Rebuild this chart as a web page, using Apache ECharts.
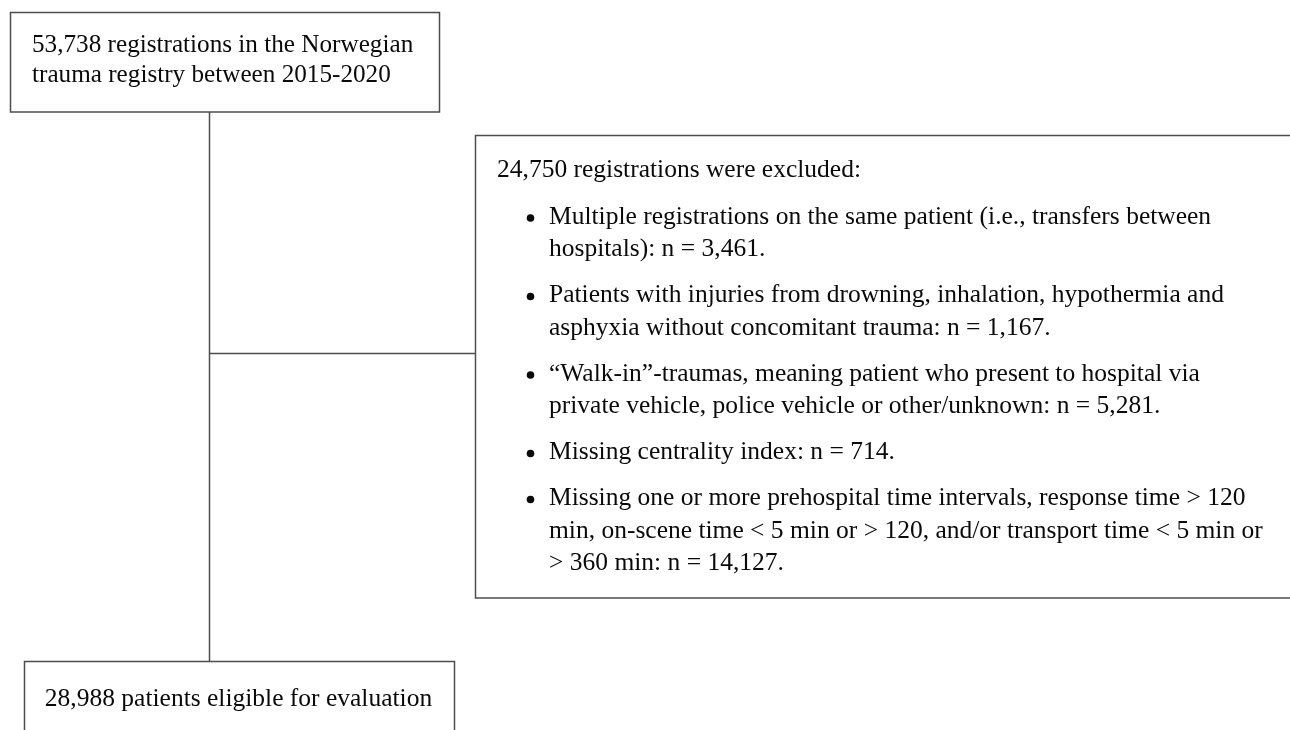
<!DOCTYPE html>
<html>
<head>
<meta charset="utf-8">
<script src="https://cdn.jsdelivr.net/npm/echarts@6/dist/echarts.min.js"></script>
<style>
html,body{margin:0;padding:0;background:#fff;}
#chart{width:1290px;height:730px;}
</style>
</head>
<body>
<div id="chart"></div>
<script>
// ---- content ----
const topBoxLines = [
  "53,738 registrations in the Norwegian",
  "trauma registry between 2015-2020"
];
const exclusionHeader = "24,750 registrations were excluded:";
const exclusionItems = [
  ["Multiple registrations on the same patient (i.e., transfers between", "hospitals): n = 3,461."],
  ["Patients with injuries from drowning, inhalation, hypothermia and", "asphyxia without concomitant trauma: n = 1,167."],
  ["\u201CWalk-in\u201D-traumas, meaning patient who present to hospital via", "private vehicle, police vehicle or other/unknown: n = 5,281."],
  ["Missing centrality index: n = 714."],
  ["Missing one or more prehospital time intervals, response time > 120", "min, on-scene time < 5 min or > 120, and/or transport time < 5 min or", "> 360 min: n = 14,127."]
];
const bottomBoxText = "28,988 patients eligible for evaluation";

// ---- drawing ----
const FONT = '"Liberation Serif","Times New Roman",serif';
const TXT = '#0a0a0a';
const LINE = '#4d4d4d';
const LW = 1.5;

const els = [];
function rect(x, y, w, h) {
  els.push({type: 'rect', shape: {x, y, width: w, height: h},
    style: {fill: '#fff', stroke: LINE, lineWidth: LW}});
}
function line(x1, y1, x2, y2) {
  els.push({type: 'line', shape: {x1, y1, x2, y2},
    style: {stroke: LINE, lineWidth: LW}});
}
function text(t, x, y, size, align) {
  els.push({type: 'text', x, y, style: {text: t, x: 0, y: 0, fill: TXT,
    font: size + 'px ' + FONT, textAlign: align || 'left', textVerticalAlign: 'middle'}});
}

// connectors
line(209.5, 112, 209.5, 662);
line(209.5, 353.5, 475.5, 353.5);

// top box
rect(10.5, 12.5, 429, 99.5);
topBoxLines.forEach((t, i) => text(t, 32, 45 + i * 30, 25.2));

// exclusion box (extends past right edge)
rect(475.5, 135.5, 830, 462.5);
text(exclusionHeader, 497, 170, 25.5);
let y = 217;
exclusionItems.forEach((item, k) => {
  els.push({type: 'circle', shape: {cx: 530.5, cy: y + 1, r: 3.8}, style: {fill: TXT}});
  item.forEach((t, i) => {
    text(t, 549, y, 25.5);
    if (i < item.length - 1) y += 32.5;
  });
  y += 46;
});

// bottom box
rect(24.5, 661.5, 430, 100);
text(bottomBoxText, 238.5, 699, 25.5, 'center');

const chart = echarts.init(document.getElementById('chart'), null, {renderer: 'canvas'});
chart.setOption({animation: false, graphic: {elements: els}});
</script>
</body>
</html>
